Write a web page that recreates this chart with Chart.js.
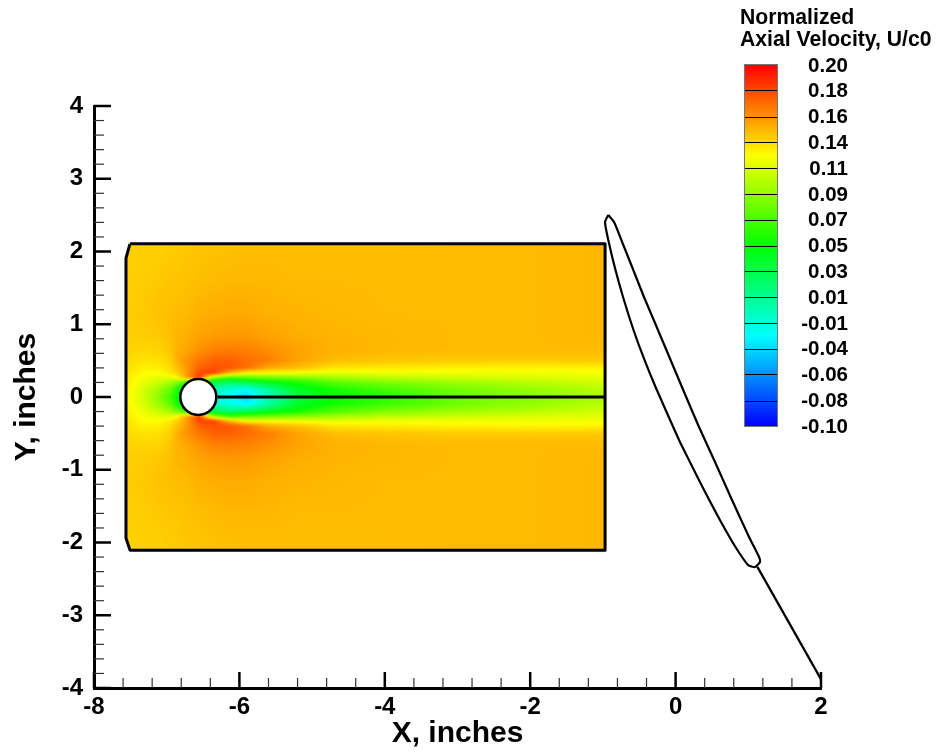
<!DOCTYPE html>
<html>
<head>
<meta charset="utf-8">
<style>html,body{margin:0;padding:0;background:#fff}canvas{display:block}</style>
<script src="https://cdn.jsdelivr.net/npm/chart.js@4"></script>
</head>
<body>
<canvas id="c" width="937" height="753"></canvas>
<script>
// Field samples: U/c0 at (fieldX, |Y|), the field is mirrored about Y = 0
const fieldX = [-7.56,-7.3,-7.1,-6.95,-6.85,-6.75,-6.55,-6.35,-6.15,-5.9,-5.6,-5.2,-4.7,-4,-3,-2,-0.97];
const fieldY = [0,0.1,0.2,0.27,0.33,0.4,0.5,0.65,0.85,1.15,1.6,2.11];
const fieldU = [
 [.130,.110,.090,.070,.050,.020,.000,-.020,-.025,-.040,-.005,.032,.050,.060,.080,.090,.100],
 [.130,.112,.095,.078,.055,.035,.010,-.005,-.015,-.025,.003,.038,.055,.068,.083,.093,.104],
 [.131,.118,.108,.098,.085,.070,.050,.030,.018,.028,.042,.057,.075,.087,.097,.104,.112],
 [.132,.122,.118,.118,.128,.150,.185,.100,.075,.080,.085,.090,.098,.106,.111,.115,.118],
 [.133,.125,.125,.132,.140,.150,.180,.183,.150,.125,.125,.122,.118,.121,.121,.121,.122],
 [.134,.129,.130,.135,.144,.153,.171,.176,.175,.168,.150,.144,.133,.131,.129,.128,.128],
 [.136,.133,.134,.139,.149,.156,.165,.172,.172,.168,.163,.152,.144,.142,.140,.140,.141],
 [.138,.137,.138,.142,.148,.150,.157,.162,.163,.162,.158,.152,.148,.146,.145,.145,.145],
 [.139,.140,.141,.144,.147,.148,.152,.154,.155,.155,.152,.149,.147,.146,.145,.145,.146],
 [.140,.141,.143,.144,.145,.145,.148,.149,.150,.150,.148,.147,.146,.145,.145,.145,.146],
 [.139,.140,.141,.142,.142,.143,.144,.145,.146,.146,.146,.145,.145,.145,.145,.145,.146],
 [.138,.139,.139,.140,.140,.141,.142,.143,.143,.144,.144,.144,.144,.144,.145,.145,.146]
];
// Geometry, in inches
const domainOutline = [[-7.505,2.105],[-0.97,2.105],[-0.97,-2.105],[-7.505,-2.105],[-7.56,-1.94],[-7.56,1.91],[-7.505,2.105]];
const rodLine = [[-6.3,0],[-0.97,0]];
const cylinder = [[-6.565,0]];
const bladeOutline = [[-.926,2.502],[-.847,2.405],[-.719,2.089],[-.582,1.746],[-.435,1.375],[-.283,1.017],[-.098,.577],[.122,.055],[.322,-.412],[.542,-.893],[.776,-1.416],[1.01,-1.924],[1.148,-2.199],[1.161,-2.268],[1.092,-2.337],[.996,-2.309],[.824,-2.062],[.625,-1.718],[.377,-1.251],[.204,-.907],[.047,-.591],[-.27,.124],[-.428,.509],[-.579,.921],[-.719,1.361],[-.834,1.773],[-.926,2.158],[-.971,2.405],[-.926,2.502]];
const bladeTail = [[1.124,-2.333],[2,-3.88]];
// Axis ticks
const xMajor = [-8,-6,-4,-2,0,2];
const xMinor = [-7.6,-7.2,-6.8,-6.4,-5.6,-5.2,-4.8,-4.4,-3.6,-3.2,-2.8,-2.4,-1.6,-1.2,-0.8,-0.4,0.4,0.8,1.2,1.6];
const yMajor = [-4,-3,-2,-1,0,1,2,3,4];
const yMinor = [-3.8,-3.6,-3.4,-3.2,-2.8,-2.6,-2.4,-2.2,-1.8,-1.6,-1.4,-1.2,-0.8,-0.6,-0.4,-0.2,0.2,0.4,0.6,0.8,1.2,1.4,1.6,1.8,2.2,2.4,2.6,2.8,3.2,3.4,3.6,3.8];
// Colour legend
const legendTitle = ['Normalized','Axial Velocity, U/c0'];
const legendLevels = [0.20,0.179,0.157,0.136,0.114,0.093,0.071,0.05,0.029,0.007,-0.014,-0.036,-0.057,-0.079,-0.10];
const legendLabels = ['0.20','0.18','0.16','0.14','0.11','0.09','0.07','0.05','0.03','0.01','-0.01','-0.04','-0.06','-0.08','-0.10'];
const colorStops = [[-0.1,0,0,255],[-0.025,0,255,255],[0.05,0,255,0],[0.125,255,255,0],[0.2,255,0,0]];

const FONT = '"Liberation Sans", Arial, sans-serif';
const pts = a => a.map(p => ({x:p[0], y:p[1]}));

function colorOf(v){
  if (v <= colorStops[0][0]) return colorStops[0].slice(1);
  for (let i = 1; i < colorStops.length; i++){
    const a = colorStops[i-1], b = colorStops[i];
    if (v <= b[0]){
      const t = (v-a[0])/(b[0]-a[0]);
      return [a[1]+(b[1]-a[1])*t, a[2]+(b[2]-a[2])*t, a[3]+(b[3]-a[3])*t];
    }
  }
  return colorStops[colorStops.length-1].slice(1);
}
function findCell(arr, v){
  let i = 0;
  while (i < arr.length-2 && v > arr[i+1]) i++;
  const t = Math.max(0, Math.min(1, (v-arr[i])/(arr[i+1]-arr[i])));
  return [i,t];
}
function sampleField(x, y){
  const [i,s] = findCell(fieldX, x);
  const [j,t] = findCell(fieldY, Math.abs(y));
  const a = fieldU[j][i], b = fieldU[j][i+1], c = fieldU[j+1][i], d = fieldU[j+1][i+1];
  return (a*(1-s)+b*s)*(1-t) + (c*(1-s)+d*s)*t;
}

const fieldPlugin = {
  id:'field',
  beforeDatasetsDraw(chart){
    const {ctx, scales:{x:sx, y:sy}} = chart;
    const x0 = Math.floor(sx.getPixelForValue(-7.6)), x1 = Math.ceil(sx.getPixelForValue(-0.93));
    const y0 = Math.floor(sy.getPixelForValue(2.15)), y1 = Math.ceil(sy.getPixelForValue(-2.15));
    const w = x1-x0, h = y1-y0;
    const off = document.createElement('canvas');
    off.width = w; off.height = h;
    const oc = off.getContext('2d');
    const img = oc.createImageData(w,h);
    for (let py = 0; py < h; py++){
      const dy = sy.getValueForPixel(y0+py+0.5);
      for (let px = 0; px < w; px++){
        const c = colorOf(sampleField(sx.getValueForPixel(x0+px+0.5), dy));
        const k = 4*(py*w+px);
        img.data[k]=c[0]; img.data[k+1]=c[1]; img.data[k+2]=c[2]; img.data[k+3]=255;
      }
    }
    oc.putImageData(img,0,0);
    ctx.save();
    ctx.beginPath();
    domainOutline.forEach((p,i)=>{
      const X = sx.getPixelForValue(p[0]), Y = sy.getPixelForValue(p[1]);
      i ? ctx.lineTo(X,Y) : ctx.moveTo(X,Y);
    });
    ctx.closePath();
    ctx.clip();
    ctx.filter = 'blur(1px)';
    ctx.drawImage(off,x0,y0);
    ctx.restore();
  }
};

const axisTicksPlugin = {
  id:'axisTicks',
  afterDatasetsDraw(chart){
    const {ctx, scales:{x:sx, y:sy}} = chart;
    const bottom = sy.getPixelForValue(-4), left = sx.getPixelForValue(-8);
    ctx.save();
    const seg = (a,b,c,d,w,col)=>{ctx.lineWidth=w;ctx.strokeStyle=col;ctx.beginPath();ctx.moveTo(a,b);ctx.lineTo(c,d);ctx.stroke();};
    xMajor.forEach(v=>{const p=sx.getPixelForValue(v);seg(p,bottom,p,bottom-16,2.5,'#000');});
    xMinor.forEach(v=>{const p=sx.getPixelForValue(v);seg(p,bottom,p,bottom-10,1.2,'#333');});
    yMajor.forEach(v=>{const p=sy.getPixelForValue(v);seg(left,p,left+17,p,2.5,'#000');});
    yMinor.forEach(v=>{const p=sy.getPixelForValue(v);seg(left,p,left+10,p,1.2,'#333');});
    ctx.restore();
  }
};

const legendPlugin = {
  id:'colorLegend',
  afterDraw(chart){
    const ctx = chart.ctx;
    const bx = 745, bw = 32, top = 65, bot = 426;
    const yOf = v => top + (0.2-v)/0.3*(bot-top);
    const frac = v => Math.max(0, Math.min(1, (0.2-v)/0.3));
    ctx.save();
    const g = ctx.createLinearGradient(0,top,0,bot);
    colorStops.forEach(s=>g.addColorStop(frac(s[0]),`rgb(${s[1]},${s[2]},${s[3]})`));
    ctx.fillStyle = g;
    ctx.fillRect(bx,top,bw,bot-top);
    ctx.strokeStyle = '#000'; ctx.lineWidth = 1;
    legendLevels.slice(1,-1).forEach(v=>{
      const y = Math.round(yOf(v))+0.5;
      ctx.beginPath();ctx.moveTo(bx,y);ctx.lineTo(bx+bw,y);ctx.stroke();
    });
    ctx.strokeStyle = '#777';
    ctx.strokeRect(bx-0.5,top-0.5,bw+1,bot-top+1);
    ctx.fillStyle = '#000';
    ctx.font = 'bold 20.5px '+FONT;
    ctx.textAlign = 'right'; ctx.textBaseline = 'middle';
    legendLabels.forEach((t,i)=>ctx.fillText(t,848,top+1+i*(bot-top)/(legendLabels.length-1)));
    ctx.textAlign = 'left';
    ctx.font = 'bold 21.2px '+FONT;
    ctx.fillText(legendTitle[0],740,18);
    ctx.fillText(legendTitle[1],740,40);
    ctx.restore();
  }
};

const line = (data,width,tension) => ({type:'scatter',showLine:true,data:pts(data),borderColor:'#000',borderWidth:width,pointRadius:0,fill:false,clip:false,tension:tension||0,borderJoinStyle:'round'});

new Chart(document.getElementById('c'),{
  type:'scatter',
  data:{datasets:[
    {type:'scatter',data:pts(cylinder),pointRadius:18,pointHoverRadius:18,pointBackgroundColor:'#fff',pointBorderColor:'#000',pointBorderWidth:2.5,clip:false},
    line(rodLine,3),
    line(domainOutline,3),
    line(bladeOutline,2.2,0.2),
    line(bladeTail,2.4)
  ]},
  plugins:[fieldPlugin,axisTicksPlugin,legendPlugin],
  options:{
    responsive:false,
    animation:false,
    events:[],
    layout:{padding:{left:0,top:106,right:116,bottom:0}},
    plugins:{legend:{display:false},tooltip:{enabled:false},title:{display:false}},
    scales:{
      x:{
        type:'linear',min:-8,max:2,
        afterFit(s){s.height=65;},
        grid:{display:false,drawTicks:false},
        border:{display:true,color:'#000',width:3},
        ticks:{stepSize:2,maxRotation:0,padding:5,color:'#000',font:{family:FONT,weight:'bold',size:24},callback:v=>String(v)},
        title:{display:true,text:'X, inches',color:'#000',font:{family:FONT,weight:'bold',size:30},padding:{top:0,bottom:1}}
      },
      y:{
        type:'linear',min:-4,max:4,
        afterFit(s){s.width=94;},
        grid:{display:false,drawTicks:false},
        border:{display:true,color:'#000',width:3},
        ticks:{stepSize:1,padding:11,color:'#000',font:{family:FONT,weight:'bold',size:24},callback:v=>String(v)},
        title:{display:true,text:'Y, inches',color:'#000',font:{family:FONT,weight:'bold',size:30},padding:{top:9,bottom:0}}
      }
    }
  }
});
</script>
</body>
</html>
